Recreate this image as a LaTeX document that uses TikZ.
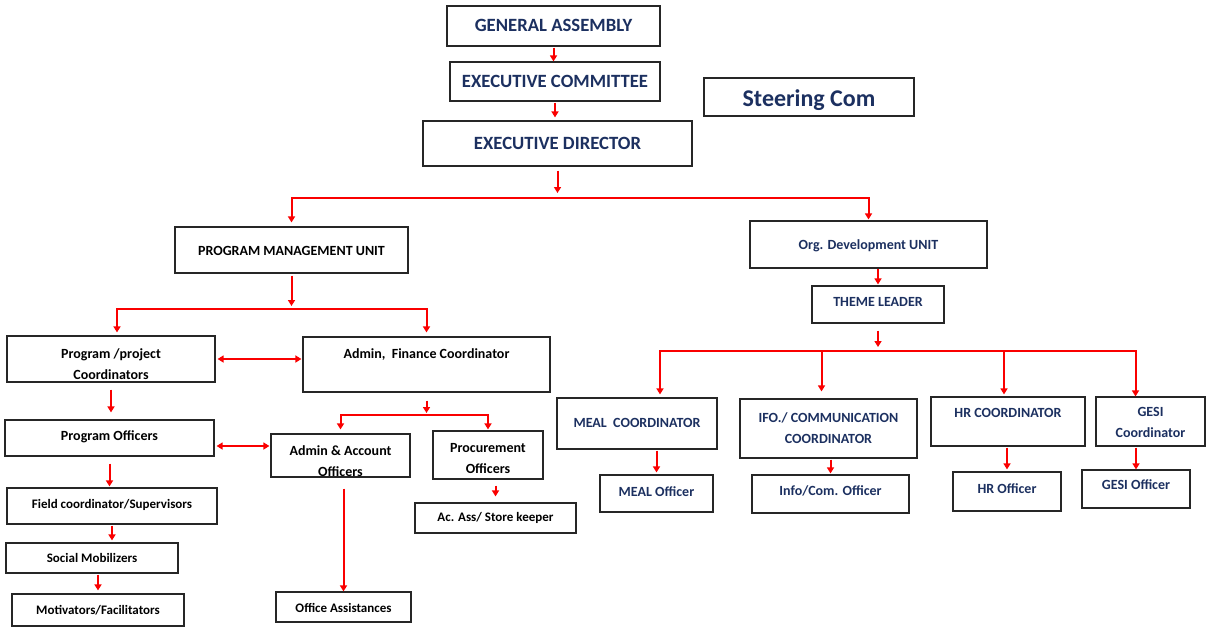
\documentclass[tikz,border=0pt]{standalone}
\usepackage{fontspec}
\setmainfont{Carlito}
\usetikzlibrary{arrows.meta}
\definecolor{navy}{RGB}{28,48,96}
\definecolor{arred}{RGB}{250,0,0}
% \obox{name}{x1}{y1}{x2}{y2}{text dy}{text style}{text}
\newcommand\obox[8]{%
  \node[box,minimum width={(#4-#2)*1pt},minimum height={(#5-#3)*1pt}] (#1) at ({(#2+#4)/2},{(#3+#5)/2}) {};
  \node[txt,#7] (#1t) at ([yshift=#6pt]#1.center) {#8};}
\begin{document}
\begin{tikzpicture}[x=1pt,y=-1pt,
  box/.style={draw=black!85,line width=1.2pt,inner sep=0pt,fill=white},
  txt/.style={inner sep=0pt,align=center,font=\bfseries\fontsize{14}{21}\selectfont},
  nv/.style={text=navy},
  big/.style={font=\bfseries\fontsize{18.7}{21}\selectfont},
  arr/.style={draw=arred,line width=2pt,-{Triangle[width=7pt,length=6pt]}},
  darr/.style={draw=arred,line width=2pt,{Triangle[width=7pt,length=6pt]}-{Triangle[width=7pt,length=6pt]}}]
\useasboundingbox[fill=white] (0,0) rectangle (1207,627);
% top
\obox{ga}{447}{6}{660}{46}{1}{nv,big}{GENERAL ASSEMBLY}
\obox{ec}{450}{62}{660}{101}{0}{nv,big}{EXECUTIVE COMMITTEE}
\obox{sc}{704}{78}{914}{116}{-3}{nv,font=\bfseries\fontsize{24}{26}\selectfont}{Steering Com}
\obox{ed}{423}{121}{692}{166}{0}{nv,big}{EXECUTIVE DIRECTOR}
% units
\obox{pmu}{175}{227}{408}{273}{-1}{}{PROGRAM MANAGEMENT UNIT}
\obox{od}{750}{221}{987}{268}{-1}{nv}{Org. Development UNIT}
\obox{th}{812}{286}{944}{323}{3}{nv}{THEME LEADER}
% left side
\obox{ppc}{7}{336}{215}{382}{-5}{}{Program /project\\Coordinators}
\obox{afc}{303}{337}{550}{392}{10}{}{Admin,\ \ Finance Coordinator}
\obox{po}{5}{420}{214}{456}{1}{}{Program Officers}
\obox{aa}{271}{434}{410}{477}{-6}{}{Admin \& Account\\Officers}
\obox{proc}{433}{431}{543}{479}{-4}{}{Procurement\\Officers}
\obox{ac}{415}{503}{576}{533}{0}{font=\bfseries\fontsize{13}{16}\selectfont}{Ac. Ass/ Store keeper}
\obox{fc}{7}{488}{217}{524}{1}{font=\bfseries\fontsize{13}{16}\selectfont}{Field coordinator/Supervisors}
\obox{sm}{6}{543}{178}{573}{0}{font=\bfseries\fontsize{13}{16}\selectfont}{Social Mobilizers}
\obox{mot}{12}{594}{184}{626}{0}{font=\bfseries\fontsize{13}{16}\selectfont}{Motivators/Facilitators}
\obox{oa}{276}{592}{411}{622}{-1}{font=\bfseries\fontsize{13}{16}\selectfont}{Office Assistances}
% right side
\obox{meal}{557}{398}{717}{449}{1}{nv}{MEAL\ \ COORDINATOR}
\obox{ifo}{740}{399}{917}{458}{0}{nv}{IFO./ COMMUNICATION\\COORDINATOR}
\obox{hrc}{931}{397}{1085}{446}{9}{nv}{HR COORDINATOR}
\obox{gesi}{1096}{397}{1205}{446}{-1}{nv}{GESI\\Coordinator}
\obox{mealo}{600}{475}{713}{512}{2}{nv}{MEAL Officer}
\obox{info}{752}{475}{909}{513}{3}{nv}{Info/Com. Officer}
\obox{hro}{953}{472}{1061}{511}{3}{nv}{HR Officer}
\obox{gesio}{1082}{470}{1190}{508}{4}{nv}{GESI Officer}
% coordinates
\coordinate (b1) at (557,198);
\coordinate (b2) at (290,309);
\coordinate (b3) at (428,415);
\coordinate (b4) at (877,351);
\coordinate (ppcin) at ([xshift=6pt]ppc.north);
\coordinate (mealin) at ([xshift=23pt]meal.north);
\coordinate (ifoin) at ([xshift=-7pt]ifo.north);
\coordinate (hrcin) at ([xshift=-4pt]hrc.north);
\coordinate (gesiin) at ([xshift=-15pt]gesi.north);
% connectors top
\draw[arr,shorten <=1pt] (ga.south) -- (ga.south |- ec.north);
\draw[arr,shorten <=1pt,shorten >=3pt] (ec.south) -- (ec.south |- ed.north);
\draw[arr,shorten <=4pt,shorten >=5pt] (ed.south) -- (ed.south |- b1);
\draw[arr,shorten >=4pt] (b1) -| (pmu.north);
\draw[arr,shorten >=1pt] (b1) -| (od.north);
% PMU
\draw[arr,shorten <=2pt,shorten >=3pt] (pmu.south) -- (pmu.south |- b2);
\draw[arr,shorten >=3pt] (b2) -| (ppcin);
\draw[arr,shorten >=4pt] (b2) -| (afc.north);
\draw[darr,shorten <=2pt,shorten >=1pt] (ppc.east) -- (ppc.east -| afc.west);
\draw[arr,shorten <=7pt,shorten >=7pt] (ppc.south) -- (ppc.south |- po.north);
\draw[arr,shorten <=8pt,shorten >=2pt] (afc.south) -- (afc.south |- b3);
\draw[arr,shorten >=4pt] (b3) -| (aa.north);
\draw[arr,shorten >=1pt] (b3) -| (proc.north);
\draw[darr,shorten <=2pt,shorten >=1pt] ([yshift=-8pt]po.east) -- ([yshift=-8pt]po.east -| aa.west);
\draw[arr,shorten <=7pt,shorten >=1pt] (po.south) -- (po.south |- fc.north);
\draw[arr,shorten <=1pt,shorten >=2pt] (fc.south) -- (fc.south |- sm.north);
\draw[arr,shorten <=1pt,shorten >=3pt] (sm.south -| mot.north) -- (mot.north);
\draw[arr,shorten <=11pt] (aa.south -| oa.north) -- (oa.north);
\draw[arr,shorten <=6pt,shorten >=6pt] (proc.south -| ac.north) -- (ac.north);
% right
\draw[arr,shorten >=1pt] (od.south -| th.north) -- (th.north);
\draw[arr,shorten <=7pt,shorten >=4pt] (th.south) -- (th.south |- b4);
\draw[arr,shorten >=3pt] (b4) -| (mealin);
\draw[arr,shorten >=0pt] (b4) -| (gesiin);
\draw[arr,shorten >=7pt] (ifoin |- b4) -- (ifoin);
\draw[arr,shorten >=2pt] (hrcin |- b4) -- (hrcin);
\draw[arr,shorten <=1pt,shorten >=2pt] (meal.south -| mealo.north) -- (mealo.north);
\draw[arr,shorten <=1pt,shorten >=1pt] (ifo.south -| info.north) -- (info.north);
\draw[arr,shorten <=1pt,shorten >=2pt] (hrc.south -| hro.north) -- (hro.north);
\draw[arr,shorten <=1pt,shorten >=0pt] (gesi.south -| gesio.north) -- (gesio.north);
\end{tikzpicture}
\end{document}
